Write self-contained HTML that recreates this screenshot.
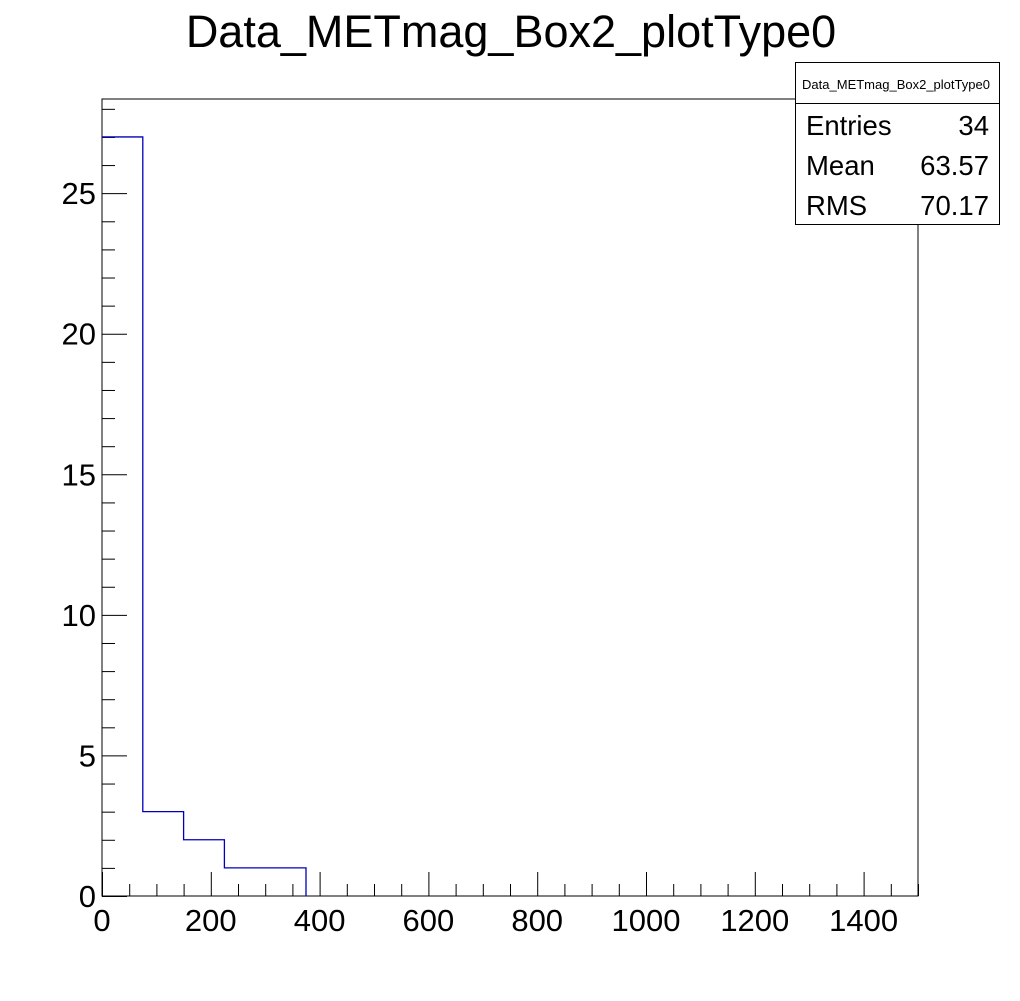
<!DOCTYPE html>
<html><head><meta charset="utf-8"><style>
body{margin:0;background:#fff;}
svg text{font-family:"Liberation Sans",Arial,sans-serif;}
</style></head><body>
<svg id="c" width="1020" height="996" xmlns="http://www.w3.org/2000/svg">
<rect width="1020" height="996" fill="#fff"/>
<text x="511" y="47" font-size="45" text-anchor="middle">Data_METmag_Box2_plotType0</text>
<rect x="102" y="99" width="816" height="797" fill="none" stroke="#000" stroke-width="1"/>
<g id="ax"></g>
<path id="hist" fill="none" stroke="#0000bb" stroke-width="1.3"/>
<g>
<rect x="795.5" y="62.5" width="204" height="162" fill="#fff" stroke="#000"/>
<line x1="795.5" y1="103.5" x2="999.5" y2="103.5" stroke="#000"/>
<text x="896" y="89" font-size="13" text-anchor="middle">Data_METmag_Box2_plotType0</text>
<text x="806" y="135" font-size="27.5">Entries</text><text x="989" y="135" font-size="27.5" text-anchor="end">34</text>
<text x="806" y="175" font-size="27.5">Mean</text><text x="989" y="175" font-size="27.5" text-anchor="end">63.57</text>
<text x="806" y="215" font-size="27.5">RMS</text><text x="989" y="215" font-size="27.5" text-anchor="end">70.17</text>
</g>
</svg>
<script>
const binEdges=[0,75,150,225,300,375];
const counts=[27,3,2,1,1];
const xTicks=[0,200,400,600,800,1000,1200,1400];
const yTicks=[0,5,10,15,20,25];
const X0=102,X1=918,Y0=896,Y1=99,XMAX=1500,YMAX=28.35;
const xs=v=>X0+v/XMAX*(X1-X0);
const ys=v=>Y0-v/YMAX*(Y0-Y1);
const ns="http://www.w3.org/2000/svg";
const ax=document.getElementById('ax');
function ln(x1,y1,x2,y2){const l=document.createElementNS(ns,'line');l.setAttribute('x1',x1);l.setAttribute('y1',y1);l.setAttribute('x2',x2);l.setAttribute('y2',y2);l.setAttribute('stroke','#000');ax.appendChild(l);return l;}
function tx(x,y,s,a){const t=document.createElementNS(ns,'text');t.setAttribute('x',x);t.setAttribute('y',y);t.setAttribute('font-size','31');t.setAttribute('text-anchor',a);t.textContent=s;ax.appendChild(t);return t;}
for(let v=0;v<=XMAX;v+=50){const x=xs(v)+0.5;const l=ln(x,Y0,x,Y0-(v%200==0?24:12));

}
for(let v=0;v<=28;v+=1){const y=ys(v)+0.5;const l=ln(X0,y,X0+(v%5==0?25:13),y);

}
xTicks.forEach(v=>{const t=tx(xs(v),931,String(v),'middle');

});
yTicks.forEach(v=>{const t=tx(96,ys(v)+11,String(v),'end');

});
let d='M'+xs(binEdges[0])+','+ys(counts[0]);
counts.forEach((c,i)=>{d+=' L'+xs(binEdges[i])+','+ys(c)+' L'+xs(binEdges[i+1])+','+ys(c);});
d+=' L'+xs(binEdges[counts.length])+','+ys(0);
document.getElementById('hist').setAttribute('d',d);
</script>
</body></html>
